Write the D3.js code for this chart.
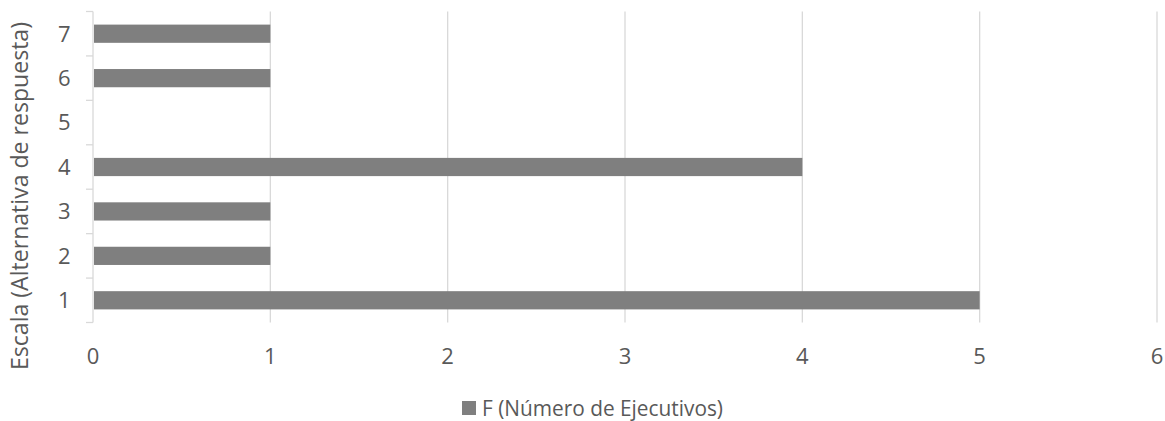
<!DOCTYPE html>
<html>
<head>
<meta charset="utf-8">
<script src="https://cdn.jsdelivr.net/npm/d3@7"></script>
<style>
  html, body { margin: 0; padding: 0; background: #fff; }
  svg text { font-family: "Open Sans", "Noto Sans", sans-serif; fill: #595959; }
</style>
</head>
<body>
<svg id="chart" width="1165" height="421"></svg>
<script>
// Response scale alternatives and how many executives chose each
const categories = ["1", "2", "3", "4", "5", "6", "7"];
const counts = [5, 1, 1, 4, 0, 1, 1];
const xTicks = [0, 1, 2, 3, 4, 5, 6];
const seriesName = "F (Número de Ejecutivos)";
const yTitle = "Escala (Alternativa de respuesta)";

const svg = d3.select("#chart");
const plot = { left: 93, right: 1157, top: 11.5, bottom: 322.5 };

const x = d3.scaleLinear().domain([0, 6]).range([plot.left, plot.right]);
const y = d3.scaleBand().domain(categories).range([plot.bottom, plot.top]).paddingInner(0.59).paddingOuter(0.295);
const yBounds = d3.scaleBand().domain(categories).range([plot.bottom, plot.top]);

// Vertical gridlines
svg.append("g")
  .selectAll("line")
  .data(xTicks.slice(1))
  .join("line")
  .attr("x1", d => x(d)).attr("x2", d => x(d))
  .attr("y1", plot.top).attr("y2", plot.bottom)
  .attr("stroke", "#d9d9d9").attr("stroke-width", 1.3);

// Category axis line with tick marks at band boundaries
const yAxis = svg.append("g");
yAxis.append("line")
  .attr("x1", plot.left).attr("x2", plot.left)
  .attr("y1", plot.top).attr("y2", plot.bottom)
  .attr("stroke", "#d9d9d9").attr("stroke-width", 1.3);
const bounds = categories.map(c => yBounds(c)).concat([plot.bottom]);
yAxis.selectAll("line.tick")
  .data(bounds)
  .join("line")
  .attr("class", "tick")
  .attr("x1", plot.left - 7).attr("x2", plot.left)
  .attr("y1", d => d).attr("y2", d => d)
  .attr("stroke", "#d9d9d9").attr("stroke-width", 1.3);

// Bars
svg.append("g")
  .selectAll("rect")
  .data(categories.map((c, i) => ({ c, v: counts[i] })).filter(d => d.v > 0))
  .join("rect")
  .attr("x", x(0) + 1)
  .attr("y", d => y(d.c))
  .attr("width", d => x(d.v) - x(0) - 1)
  .attr("height", y.bandwidth())
  .attr("fill", "#7f7f7f");

// Category labels
svg.append("g")
  .selectAll("text")
  .data(categories)
  .join("text")
  .attr("x", 70.5)
  .attr("y", d => yBounds(d) + yBounds.bandwidth() / 2)
  .attr("dy", "0.36em")
  .attr("text-anchor", "end")
  .attr("font-size", 22)
  .text(d => d);

// Value axis labels
svg.append("g")
  .selectAll("text")
  .data(xTicks)
  .join("text")
  .attr("x", d => x(d))
  .attr("y", 356)
  .attr("dy", "0.36em")
  .attr("text-anchor", "middle")
  .attr("font-size", 22)
  .text(d => d);

// Axis title
svg.append("text")
  .attr("transform", "translate(20,196) rotate(-90)")
  .attr("dy", "0.35em")
  .attr("text-anchor", "middle")
  .attr("font-size", 23)
  .attr("textLength", 348)
  .attr("lengthAdjust", "spacingAndGlyphs")
  .text(yTitle);

// Legend
const legend = svg.append("g").attr("transform", "translate(462,408)");
legend.append("rect")
  .attr("x", 0).attr("y", -7).attr("width", 14).attr("height", 14)
  .attr("fill", "#7f7f7f");
legend.append("text")
  .attr("x", 20).attr("y", 0).attr("dy", "0.36em")
  .attr("font-size", 22)
  .attr("textLength", 241)
  .attr("lengthAdjust", "spacingAndGlyphs")
  .text(seriesName);
</script>
</body>
</html>
